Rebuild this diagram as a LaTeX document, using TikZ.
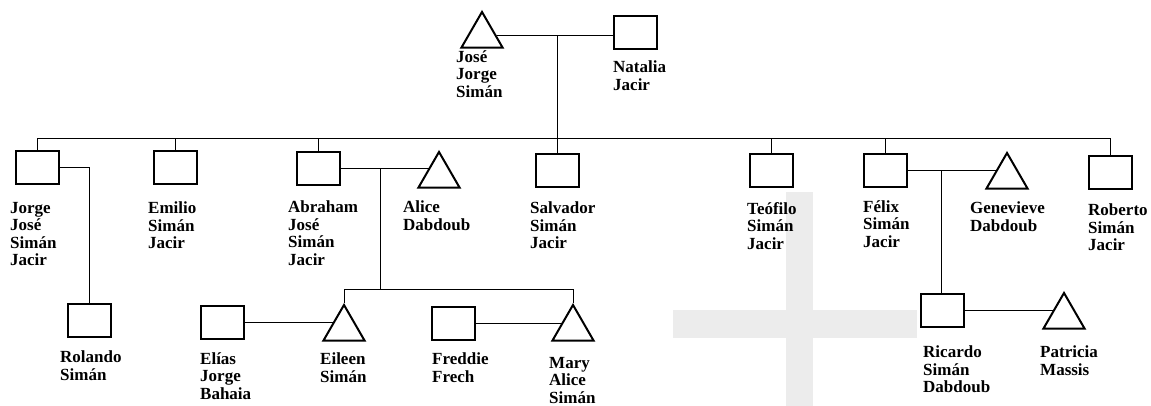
\documentclass[tikz,border=0pt]{standalone}
\usepackage{fontspec}
\setmainfont{Liberation Serif}
\usetikzlibrary{shapes.geometric,backgrounds}
\tikzset{
  sq/.style={draw, line width=2pt, fill=white, inner sep=0pt, minimum width=43pt, minimum height=33pt},
  tri/.style={draw, line width=2pt, fill=white, inner sep=0pt, regular polygon, regular polygon sides=3, minimum size=47.5pt},
  lbl/.style={anchor=north west, align=left, inner sep=0pt, font=\fontsize{17}{17.5}\selectfont\bfseries},
  link/.style={line width=2pt, line join=miter}
}
\begin{document}
\begin{tikzpicture}[x=1pt, y=-1pt]
  \useasboundingbox (0,0) rectangle (1151,406);
  \fill[gray!15] (786,192) rectangle (813,406);
  \fill[gray!15] (673,310) rectangle (917,338);
  \draw
    (482,35.7) node[tri] (jose){}
    (635,33) node[sq] (natalia){}
    (37,167.5) node[sq] (jorge){}
    (175,167.5) node[sq] (emilio){}
    (318.5,168.5) node[sq] (abraham){}
    (439,175.7) node[tri] (alice){}
    (557.5,170.5) node[sq] (salvador){}
    (771,170.5) node[sq] (teofilo){}
    (885,170.5) node[sq] (felix){}
    (1007,176.7) node[tri] (genevieve){}
    (1110.5,172.5) node[sq] (roberto){}
    (89,320) node[sq] (rolando){}
    (222.5,322) node[sq] (elias){}
    (344,328.7) node[tri] (eileen){}
    (453.5,323.5) node[sq] (freddie){}
    (573,328.7) node[tri] (mary){}
    (942,310.5) node[sq] (ricardo){}
    (1064,316.7) node[tri] (patricia){};
  \draw
    (456,50) node[lbl] (jose-l){José\\Jorge\\Simán}
    (613,61) node[lbl] (natalia-l){Natalia\\Jacir}
    (10,202) node[lbl] (jorge-l){Jorge\\José\\Simán\\Jacir}
    (148,202) node[lbl] (emilio-l){Emilio\\Simán\\Jacir}
    (288,201) node[lbl] (abraham-l){Abraham\\José\\Simán\\Jacir}
    (403,201) node[lbl] (alice-l){Alice\\Dabdoub}
    (530,202) node[lbl] (salvador-l){Salvador\\Simán\\Jacir}
    (747,202) node[lbl] (teofilo-l){Teófilo\\Simán\\Jacir}
    (863,200) node[lbl] (felix-l){Félix\\Simán\\Jacir}
    (970,202) node[lbl] (genevieve-l){Genevieve\\Dabdoub}
    (1088,204) node[lbl] (roberto-l){Roberto\\Simán\\Jacir}
    (60,351) node[lbl] (rolando-l){Rolando\\Simán}
    (200,352) node[lbl] (elias-l){Elías\\Jorge\\Bahaia}
    (320,353) node[lbl] (eileen-l){Eileen\\Simán}
    (432,353) node[lbl] (freddie-l){Freddie\\Frech}
    (549,357) node[lbl] (mary-l){Mary\\Alice\\Simán}
    (923,346) node[lbl] (ricardo-l){Ricardo\\Simán\\Dabdoub}
    (1040,346) node[lbl] (patricia-l){Patricia\\Massis};
  \coordinate (jn) at (557.5,35.7);
  \coordinate (sib) at (0,138);
  \coordinate (aa) at (380,168.5);
  \coordinate (kids) at (0,289);
  \coordinate (fg) at (941,170.5);
  \begin{scope}[on background layer, link]
    \draw (jose) -- (jose -| natalia.west);
    \draw (jn) -- (salvador.north);
    \draw (jorge.north) -- (jorge.north |- sib) -- (roberto.north |- sib) -- (roberto.north);
    \draw (emilio.north) -- (emilio.north |- sib);
    \draw (abraham.north) -- (abraham.north |- sib);
    \draw (teofilo.north) -- (teofilo.north |- sib);
    \draw (felix.north) -- (felix.north |- sib);
    \draw (jorge.east) -| (rolando.north);
    \draw (abraham.east) -- (abraham.east -| alice);
    \draw (aa) -- (aa |- kids);
    \draw (eileen.north) -- (eileen.north |- kids) -- (mary.north |- kids) -- (mary.north);
    \draw (elias.east) -- (elias.east -| eileen);
    \draw (freddie.east) -- (freddie.east -| mary);
    \draw (felix.east) -- (felix.east -| genevieve);
    \draw (fg) -- (fg |- ricardo.north);
    \draw (ricardo.east) -- (ricardo.east -| patricia);
  \end{scope}
\end{tikzpicture}
\end{document}
